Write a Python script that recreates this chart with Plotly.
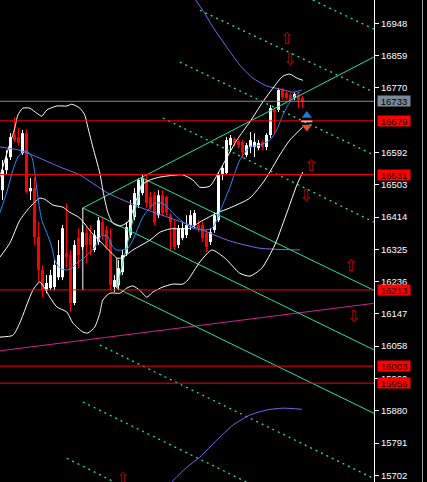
import plotly.graph_objects as go

# ---------------- data ----------------
opens  = [16488,16543,16579,16640,16634,16590,16645,16485,16494,16359,16268,16212,16218,16221,16248,16248,16314,16309,16177,16356,
          16331,16370,16364,16323,16345,16400,16378,16350,16221,16226,16262,16314,16364,16414,16447,16480,16516,16469,16474,16419,
          16474,16469,16419,16386,16337,16356,16364,16392,16392,16392,16392,16370,16345,16378,16405,16530,16535,16612,16629,16623,
          16621,16585,16607,16607,16604,16621,16607,16640,16709,16709,16764,16756,16750,16742,16750,16742]
highs  = [16571,16598,16645,16689,16659,16654,16656,16521,16524,16400,16281,16254,16268,16295,16350,16392,16452,16323,16350,16383,
          16392,16386,16392,16378,16414,16414,16389,16383,16254,16295,16323,16400,16461,16494,16521,16530,16530,16483,16483,16488,
          16488,16474,16425,16405,16392,16400,16419,16433,16433,16405,16400,16378,16383,16427,16538,16557,16634,16640,16634,16629,
          16626,16618,16648,16645,16626,16626,16645,16723,16717,16769,16769,16761,16756,16758,16756,16747]
lows   = [16461,16530,16571,16621,16612,16585,16480,16461,16337,16235,16193,16204,16212,16212,16240,16240,16273,16152,16171,16273,
          16323,16287,16309,16317,16337,16350,16323,16212,16207,16212,16254,16306,16356,16405,16439,16474,16439,16433,16392,16411,
          16419,16419,16323,16323,16328,16350,16356,16378,16383,16372,16345,16317,16337,16370,16400,16516,16530,16593,16609,16604,
          16576,16579,16590,16579,16598,16598,16598,16632,16645,16703,16739,16736,16731,16736,16714,16714]
closes = [16543,16576,16634,16626,16618,16645,16483,16494,16359,16268,16212,16232,16254,16282,16309,16383,16303,16177,16337,16309,
          16372,16337,16337,16364,16405,16364,16331,16226,16240,16273,16309,16386,16447,16480,16516,16521,16452,16441,16400,16474,
          16425,16427,16400,16331,16383,16383,16392,16419,16425,16383,16356,16331,16372,16419,16530,16549,16626,16632,16618,16612,
          16593,16612,16626,16621,16618,16607,16640,16714,16703,16764,16745,16742,16736,16753,16736,16733]

# fast moving average (blue)
blue_x = [-0.68,1.08,2.58,3.83,5.08,6.08,7.33,8.08,8.83,9.83,11.08,12.33,13.08,14.33,16.08,17.33,18.58,20.58,23.08,24.83,
          26.33,27.58,28.58,29.83,31.33,32.58,33.83,35.08,36.33,38.08,40.08,41.33,43.58,45.58,47.58,50.08,52.33,53.58,54.83,56.83,
          59.33,61.83,64.33,66.83,68.58,70.08,71.83,73.83,74.33]
blue_y = [16425,16483,16543,16579,16593,16596,16579,16535,16469,16405,16370,16331,16295,16273,16268,16273,16287,16303,16331,16364,
          16359,16331,16323,16323,16328,16350,16383,16414,16433,16452,16452,16439,16414,16397,16383,16378,16383,16405,16441,16496,
          16571,16607,16612,16626,16654,16695,16731,16756,16758]

# Bollinger bands (white)
bbu_x = [-0.68,1.33,3.08,3.83,5.08,6.83,8.58,9.83,11.08,13.58,16.08,17.33,19.33,20.58,21.08,22.58,24.33,25.33,26.33,27.58,
         29.33,31.33,33.08,34.83,36.83,39.33,45.08,47.58,49.33,51.83,54.33,58.58,61.83,65.08,67.58,70.08,71.83,73.58,75.08]
bbu_y = [16524,16598,16659,16695,16714,16714,16700,16692,16709,16720,16720,16725,16714,16695,16673,16607,16535,16474,16427,16397,
         16389,16400,16447,16502,16516,16524,16530,16516,16496,16499,16543,16626,16676,16731,16769,16802,16808,16797,16791]
bbm_x = [-0.68,1.83,4.33,6.83,9.33,10.58,12.58,15.08,16.83,19.33,22.33,24.83,27.33,28.58,29.83,32.58,36.83,39.33,41.83,46.83,
         49.33,53.58,56.83,61.83,65.58,69.33,71.83,75.08]
bbm_y = [16303,16342,16405,16441,16466,16463,16447,16441,16427,16411,16370,16342,16314,16301,16301,16323,16350,16372,16381,16383,
         16400,16425,16439,16466,16516,16585,16626,16662]
bbl_x = [-0.68,2.58,4.33,7.58,9.33,11.83,13.58,16.08,17.58,20.08,21.33,23.08,24.33,25.08,26.83,29.33,31.08,32.58,34.33,36.08,
         37.58,40.08,42.58,45.08,46.33,49.33,52.33,55.58,59.33,61.83,64.83,68.08,71.33,73.58,75.08]
bbl_y = [16083,16088,16122,16212,16235,16193,16166,16152,16122,16097,16094,16111,16149,16185,16204,16204,16218,16224,16212,16193,
         16207,16221,16229,16229,16240,16290,16323,16301,16259,16251,16273,16337,16433,16502,16538]

# slow moving average and its envelope (purple)
pm_x = [-0.68,4.33,9.33,14.33,19.33,26.33,34.83,46.83,56.83,64.33,74.33]
pm_y = [16607,16598,16576,16552,16530,16480,16439,16392,16348,16328,16323]
pu_x = [46.83,48.33,50.08,52.58,56.08,59.33,62.58,66.08,69.33,72.58,74.83]
pu_y = [17053,17012,16984,16938,16882,16833,16797,16775,16767,16758,16764]
pl_x = [40.58,42.33,46.08,49.33,53.58,57.58,61.83,66.08,70.08,74.83]
pl_y = [15647,15683,15724,15752,15799,15840,15868,15882,15887,15884]

# Andrews pitchfork (green) : start / end points
fork = [((20.08,16439),(92.83,16855)),
        ((20.08,16439),(92.83,16048)),
        ((35.08,16521),(92.83,16212)),
        ((28.58,16218),(92.83,15873)),
        ((28.58,16218),(35.08,16521))]
# handle segments (white)
handles = [((20.08,16439),(20.08,16212)), ((28.58,16301),(28.58,16218))]
# dotted channel lines (green)
dotted = [((77.58,17012),(92.83,16932)),
          ((49.33,16984),(92.83,16758)),
          ((44.33,16841),(92.83,16585)),
          ((40.08,16687),(92.83,16400)),
          ((24.33,16061),(92.83,15693)),
          ((20.08,15904),(61.08,15683)),
          ((16.08,15749),(28.08,15683))]
# trend line (magenta)
trend = ((-0.68,16045),(92.83,16176))

# horizontal levels
levels = [(16733,"#8a8a8a","#7a8a99"),(16679,"#ff0000","#ff0000"),(16531,"#ff0000","#ff0000"),
          (16213,"#ff0000","#ff0000"),(16003,"#ff0000","#ff0000"),(15956,"#ff0000","#ff0000")]
tick_vals = [15702,15791,15880,15969,16058,16147,16236,16325,16414,16503,16592,16770,16859,16948]

# signal arrows
up_arrows = [(71.08,16906),(77.08,16557),(87.08,16279),(30.08,15694)]
down_arrows = [(71.83,16848),(75.83,16472),(87.83,16141)]
marker_pos = (76.08,16694,16662)

# ---------------- figure ----------------
fig = go.Figure()
GREEN = "#1fe39a"

n = len(opens)
xs = list(range(n))
for col, cond in (("#ffffff", lambda o, c: c >= o), ("#ff0000", lambda o, c: c < o)):
    wx, wy = [], []
    bx, bb, bh = [], [], []
    for i in xs:
        o, c = opens[i], closes[i]
        if cond(o, c):
            wx += [i, i, None]
            wy += [lows[i], highs[i], None]
            bx.append(i)
            bb.append(min(o, c))
            bh.append(max(abs(c - o), 3))
    fig.add_trace(go.Scatter(x=wx, y=wy, mode="lines", line=dict(color=col, width=1), hoverinfo="skip"))
    fig.add_trace(go.Bar(x=bx, y=bh, base=bb, width=0.75, marker=dict(color=col, line=dict(width=0)), hoverinfo="skip"))

def seg(p, color, dash="solid", width=1):
    fig.add_trace(go.Scatter(x=[p[0][0], p[1][0]], y=[p[0][1], p[1][1]], mode="lines",
                             line=dict(color=color, width=width, dash=dash), hoverinfo="skip"))

for d in dotted:
    seg(d, GREEN, dash="2px,4px", width=1.3)
seg(trend, "#d0208e")
for f in fork:
    seg(f, GREEN)
for h in handles:
    seg(h, "#ffffff")

for x, y, c in ((pm_x, pm_y, "#7b68ee"), (pu_x, pu_y, "#7b68ee"), (pl_x, pl_y, "#7b68ee"),
                (bbu_x, bbu_y, "#ffffff"), (bbm_x, bbm_y, "#ffffff"), (bbl_x, bbl_y, "#ffffff"),
                (blue_x, blue_y, "#1e90ff")):
    fig.add_trace(go.Scatter(x=x, y=y, mode="lines", line=dict(color=c, width=1, shape="spline", smoothing=0.6),
                             hoverinfo="skip"))

# marker pair (blue / orange)
fig.add_trace(go.Scatter(x=[marker_pos[0]], y=[marker_pos[1]], mode="markers",
                         marker=dict(symbol="triangle-up", size=9, color="#1f78d1"), hoverinfo="skip"))
fig.add_trace(go.Scatter(x=[marker_pos[0]], y=[marker_pos[2]], mode="markers",
                         marker=dict(symbol="triangle-down", size=9, color="#e0522b"), hoverinfo="skip"))
fig.add_trace(go.Scatter(x=[marker_pos[0]], y=[(marker_pos[1] + marker_pos[2]) / 2], mode="markers",
                         marker=dict(symbol="line-ew", size=8, line=dict(color="#ffffff", width=2)), hoverinfo="skip"))

shapes = []
annotations = []
for price, lcol, bcol in levels:
    shapes.append(dict(type="line", xref="paper", x0=0, x1=1, yref="y", y0=price, y1=price,
                       line=dict(color=lcol, width=1), layer="above"))
    annotations.append(dict(xref="paper", x=377 / 374, xanchor="left", yref="y", y=price, yanchor="middle",
                            text=str(price), showarrow=False, bgcolor=bcol, width=32, height=10, borderpad=0,
                            font=dict(family="Liberation Sans, Arial", size=9.5, color="#000000")))
for x, y in up_arrows:
    annotations.append(dict(x=x, y=y, xref="x", yref="y", text="⇧", showarrow=False,
                            font=dict(family="DejaVu Sans", size=16, color="#c80000")))
for x, y in down_arrows:
    annotations.append(dict(x=x, y=y, xref="x", yref="y", text="⇩", showarrow=False,
                            font=dict(family="DejaVu Sans", size=16, color="#c80000")))
shapes.append(dict(type="line", xref="paper", x0=422.5 / 374, x1=422.5 / 374, yref="paper", y0=0, y1=1,
                   line=dict(color="#a0a0a0", width=1)))

fig.update_layout(
    width=427, height=482,
    margin=dict(l=0, r=53, t=0, b=0, autoexpand=False),
    paper_bgcolor="#000000", plot_bgcolor="#000000",
    showlegend=False, hovermode=False, barmode="overlay",
    shapes=shapes, annotations=annotations,
    xaxis=dict(range=[-0.625, 92.875], visible=False, fixedrange=True),
    yaxis=dict(range=[15683.5, 17012.2], side="right", tickvals=tick_vals, ticktext=[str(v) for v in tick_vals],
               ticks="outside", ticklen=4, tickcolor="#ffffff", showline=True, linecolor="#ffffff", linewidth=1,
               showgrid=False, zeroline=False, fixedrange=True,
               tickfont=dict(family="Liberation Sans, Arial", size=9.5, color="#ffffff")),
)

fig.write_html("out.html", config={"displayModeBar": False},
               post_script="document.body.style.margin='0px';document.body.style.background='#000';")
